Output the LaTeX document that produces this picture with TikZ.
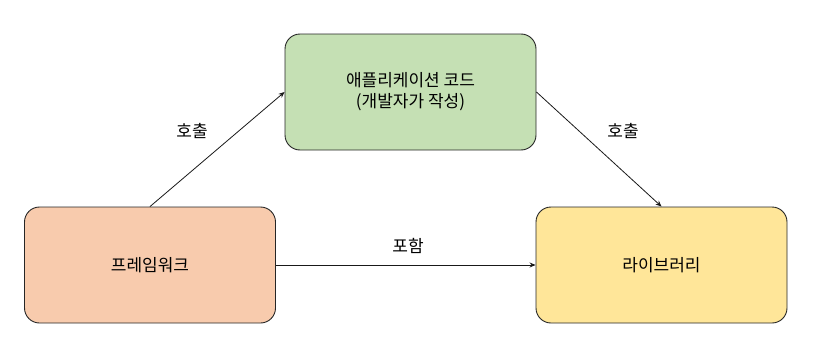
\documentclass[tikz,border=0pt]{standalone}
\usepackage{fontspec}
\newfontfamily\krfont{Noto Sans CJK KR}
\usetikzlibrary{arrows.meta, positioning}

\definecolor{appgreen}{HTML}{C5E0B4}
\definecolor{fwpeach}{HTML}{F8CBAD}
\definecolor{libyellow}{HTML}{FFE699}

\begin{document}
\begin{tikzpicture}[
    x=1pt, y=-1pt,
    box/.style={rectangle, rounded corners=15pt, draw=black!85, line width=0.9pt, minimum width=251pt, minimum height=116pt, align=center, font=\krfont\fontsize{17}{21}\selectfont},
    arrow/.style={-{Stealth[length=6pt, width=5pt]}, line width=0.8pt, draw=black!90},
    edge_label/.style={font=\krfont\fontsize{17}{21}\selectfont, inner sep=2pt}
]
    \useasboundingbox (0,0) rectangle (822,348);

    % Boxes
    \node[box, fill=appgreen] (app) at (410.5, 92) {애플리케이션 코드\\(개발자가 작성)};
    \node[box, fill=fwpeach] (framework) at (150, 265) {프레임워크};
    \node[box, fill=libyellow] (library) at (661.5, 265) {라이브러리};

    % Arrows
    \draw[arrow] (framework.north) -- (app.west);
    \draw[arrow] (app.east) -- (library.north);
    \draw[arrow] (framework.east) -- (library.west);

    % Labels
    \node[edge_label] (call_left) at (192, 131) {호출};
    \node[edge_label] (call_right) at (623, 131) {호출};
    \node[edge_label] (contains) at (408, 246) {포함};

\end{tikzpicture}
\end{document}
